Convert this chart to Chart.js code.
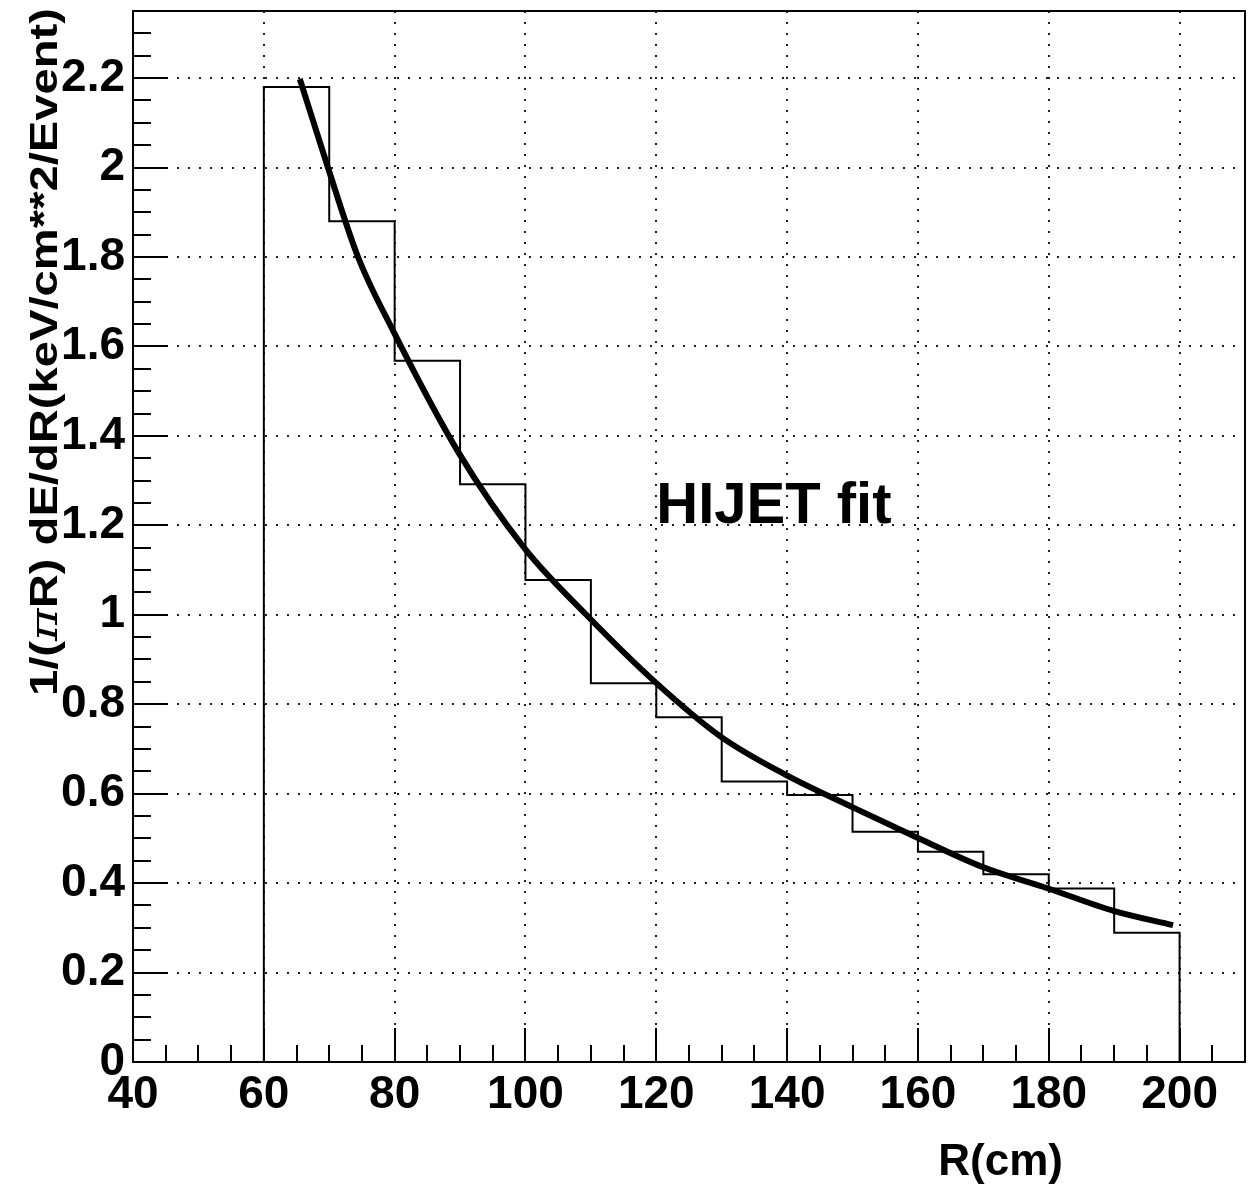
<!DOCTYPE html>
<html>
<head>
<meta charset="utf-8">
<script src="https://cdn.jsdelivr.net/npm/chart.js@4/dist/chart.umd.min.js"></script>
<style>
  html, body { margin: 0; padding: 0; background: #fff; }
  canvas { display: block; }
</style>
</head>
<body>
<canvas id="histo" width="1250" height="1189"></canvas>
<script>
// Histogram bins (R in cm) and contents
const binEdges = [60, 70, 80, 90, 100, 110, 120, 130, 140, 150, 160, 170, 180, 190, 200];
const binContents = [2.18, 1.88, 1.568, 1.292, 1.078, 0.847, 0.771, 0.627, 0.597, 0.515, 0.470, 0.420, 0.388, 0.289];

// HIJET fit curve, sampled by eye along the thick line
const fitR   = [65.5, 69.8, 74.4, 79.7, 89.8, 99.9, 109.3, 119.8, 129.9, 139.8, 149.8, 160, 169.9, 179.9, 189.9, 199];
const fitVal = [2.198, 2.00, 1.80, 1.637, 1.362, 1.148, 1.00, 0.850, 0.727, 0.642, 0.571, 0.501, 0.436, 0.388, 0.338, 0.306];

// Axis tick labels
const xTicks = [40, 60, 80, 100, 120, 140, 160, 180, 200];
const yTicks = [0, 0.2, 0.4, 0.6, 0.8, 1, 1.2, 1.4, 1.6, 1.8, 2, 2.2];

const FONT = '"Liberation Sans", Arial, Helvetica, sans-serif';

// stepped outline ('after' = vertical at previous x, then across to this bin's right edge)
const histPoints = [{ x: binEdges[0], y: 0 }];
binContents.forEach((v, i) => histPoints.push({ x: binEdges[i + 1], y: v }));
histPoints.push({ x: binEdges[binEdges.length - 1], y: 0 });

const fitPoints = fitR.map((r, i) => ({ x: r, y: fitVal[i] }));

// ROOT-style frame, inward tick marks and text
const rootDecor = {
    id: 'rootDecor',
    afterDatasetsDraw(chart) {
        const { ctx, chartArea: a, scales } = chart;
        const xs = scales.x, ys = scales.y;
        ctx.save();
        ctx.strokeStyle = '#000';
        ctx.lineWidth = 2;
        ctx.strokeRect(a.left, a.top, a.right - a.left, a.bottom - a.top);

        // x ticks every 5, majors every 20
        ctx.beginPath();
        for (let v = 40; v <= 210; v += 5) {
            const px = Math.round(xs.getPixelForValue(v));
            const len = (v % 20 === 0) ? 34 : 17;
            ctx.moveTo(px, a.bottom);
            ctx.lineTo(px, a.bottom - len);
        }
        // y ticks every 0.05, majors every 0.2
        for (let k = 0; k <= 47; k++) {
            const py = Math.round(ys.getPixelForValue(k * 0.05));
            const len = (k % 4 === 0) ? 35 : 18;
            ctx.moveTo(a.left, py);
            ctx.lineTo(a.left + len, py);
        }
        ctx.stroke();

        // label inside the pad
        ctx.fillStyle = '#000';
        ctx.font = 'bold 58px ' + FONT;
        ctx.textAlign = 'left';
        ctx.textBaseline = 'alphabetic';
        ctx.fillText('HIJET fit', xs.getPixelForValue(120), ys.getPixelForValue(1.205));

        // x axis title, right aligned
        ctx.font = 'bold 44px ' + FONT;
        ctx.textAlign = 'right';
        ctx.fillText('R(cm)', 1063, 1175);

        // y axis title, rotated, ending at the top
        const parts = [
            { t: '1/(', f: 'bold 38px ' + FONT },
            { t: 'π', f: 'italic 40px "DejaVu Serif", serif' },
            { t: 'R) dE/dR(keV/cm**2/Event)', f: 'bold 38px ' + FONT }
        ];
        let total = 0;
        parts.forEach(p => { ctx.font = p.f; p.w = ctx.measureText(p.t).width; total += p.w; });
        ctx.translate(57, 8);
        ctx.rotate(-Math.PI / 2);
        ctx.scale(688 / total, 1);
        ctx.textAlign = 'left';
        let cx = -total;
        parts.forEach(p => { ctx.font = p.f; ctx.fillText(p.t, cx, 0); cx += p.w; });
        ctx.restore();
    }
};

new Chart(document.getElementById('histo'), {
    type: 'line',
    data: {
        datasets: [
            {
                label: 'histogram',
                data: histPoints,
                stepped: 'after',
                borderColor: '#000',
                borderWidth: 2,
                pointRadius: 0,
                fill: false
            },
            {
                label: 'HIJET fit',
                data: fitPoints,
                borderColor: '#000',
                borderWidth: 6,
                pointRadius: 0,
                cubicInterpolationMode: 'monotone',
                fill: false
            }
        ]
    },
    options: {
        responsive: false,
        animation: false,
        events: [],
        layout: { padding: { top: 11, right: 5, left: 0, bottom: 0 } },
        plugins: { legend: { display: false }, tooltip: { enabled: false } },
        scales: {
            x: {
                type: 'linear',
                min: 40,
                max: 210,
                afterBuildTicks: s => { s.ticks = xTicks.map(v => ({ value: v })); },
                afterFit: s => { s.height = 127; s.paddingLeft = 0; s.paddingRight = 0; },
                grid: { color: '#222', lineWidth: 2, drawTicks: false },
                border: { display: false, dash: [2, 9] },
                ticks: {
                    color: '#000',
                    padding: 6,
                    maxRotation: 0,
                    font: { family: FONT, size: 46, weight: 'bold' },
                    callback: v => String(v)
                }
            },
            y: {
                type: 'linear',
                min: 0,
                max: 2.35,
                afterBuildTicks: s => { s.ticks = yTicks.map(v => ({ value: v })); },
                afterFit: s => { s.width = 133; s.paddingTop = 0; s.paddingBottom = 0; },
                grid: { color: '#222', lineWidth: 2, drawTicks: false },
                border: { display: false, dash: [2, 9] },
                ticks: {
                    color: '#000',
                    padding: 8,
                    font: { family: FONT, size: 46, weight: 'bold' },
                    callback: v => String(Math.round(v * 10) / 10)
                }
            }
        }
    },
    plugins: [rootDecor]
});
</script>
</body>
</html>
